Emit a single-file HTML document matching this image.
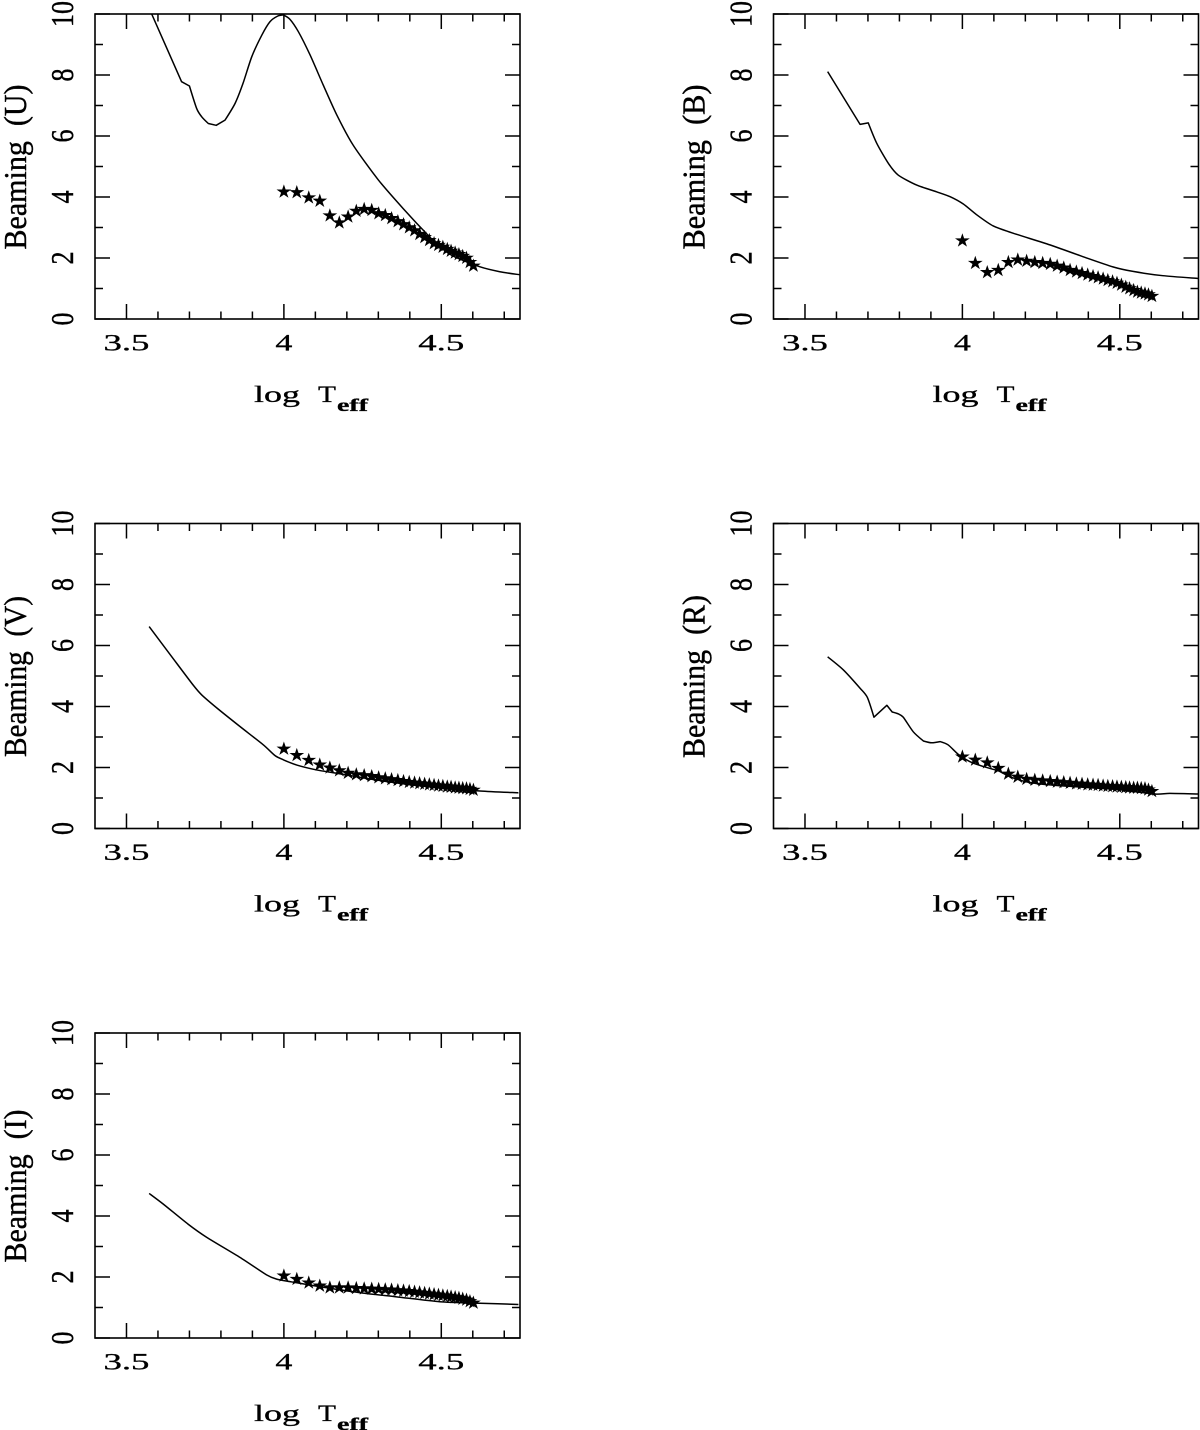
<!DOCTYPE html>
<html lang="en">
<head>
<meta charset="utf-8">
<title>Beaming vs log Teff</title>
<style>
  html, body { margin: 0; padding: 0; background: #fff; }
  svg { display: block; }
  text { font-family: "Liberation Serif", serif; fill: #000; stroke: #000; stroke-width: 0.3; white-space: pre; }
</style>
</head>
<body>
<svg id="figure" xmlns="http://www.w3.org/2000/svg" width="1200" height="1430" viewBox="0 0 1200 1430"></svg>
<script>
// ---- Shared axis values ----
const xMajorTicks = [3.5, 4, 4.5];
const xTickLabels = ["3.5", "4", "4.5"];
const xMinorTicks = [3.6, 3.7, 3.8, 3.9, 4.1, 4.2, 4.3, 4.4, 4.6, 4.7];
const yMajorTicks = [0, 2, 4, 6, 8, 10];
const yTickLabels = ["0", "2", "4", "6", "8", "10"];
const yMinorTicks = [1, 3, 5, 7, 9];

// ---- Star series: x values shared, y per band ----
const starLogT = [4.000, 4.041, 4.079, 4.114, 4.146, 4.176, 4.204, 4.230, 4.255, 4.279, 4.301, 4.322, 4.342, 4.362, 4.380, 4.398, 4.415, 4.431, 4.447, 4.462, 4.477, 4.491, 4.505, 4.519, 4.531, 4.544, 4.556, 4.568, 4.580, 4.591, 4.602];
const starsU = [4.17, 4.15, 3.98, 3.87, 3.39, 3.16, 3.35, 3.54, 3.60, 3.57, 3.46, 3.40, 3.30, 3.20, 3.10, 3.00, 2.90, 2.78, 2.68, 2.58, 2.48, 2.42, 2.36, 2.29, 2.23, 2.17, 2.12, 2.06, 2.00, 1.86, 1.74];
const starsB = [2.57, 1.83, 1.53, 1.60, 1.86, 1.94, 1.90, 1.86, 1.83, 1.80, 1.74, 1.68, 1.60, 1.55, 1.50, 1.45, 1.40, 1.36, 1.32, 1.27, 1.23, 1.18, 1.12, 1.05, 1.00, 0.94, 0.89, 0.86, 0.83, 0.80, 0.75];
const starsV = [2.61, 2.40, 2.24, 2.09, 1.99, 1.90, 1.82, 1.77, 1.74, 1.71, 1.67, 1.64, 1.61, 1.58, 1.55, 1.52, 1.50, 1.48, 1.46, 1.44, 1.42, 1.40, 1.39, 1.37, 1.36, 1.34, 1.33, 1.32, 1.31, 1.29, 1.26];
const starsR = [2.35, 2.25, 2.16, 1.98, 1.79, 1.69, 1.62, 1.59, 1.57, 1.55, 1.53, 1.51, 1.49, 1.47, 1.46, 1.44, 1.43, 1.42, 1.40, 1.39, 1.38, 1.37, 1.36, 1.35, 1.34, 1.33, 1.33, 1.32, 1.31, 1.27, 1.22];
const starsI = [2.04, 1.93, 1.81, 1.71, 1.65, 1.65, 1.65, 1.63, 1.62, 1.61, 1.60, 1.59, 1.58, 1.56, 1.55, 1.53, 1.51, 1.49, 1.47, 1.45, 1.43, 1.41, 1.39, 1.37, 1.35, 1.33, 1.31, 1.28, 1.25, 1.20, 1.15];

// ---- Model curves per band ----
const curveUx = [3.58, 3.675, 3.70, 3.723, 3.739, 3.76, 3.785, 3.813, 3.845, 3.87, 3.898, 3.93, 3.956, 3.98, 3.998, 4.019, 4.046, 4.083, 4.125, 4.168, 4.22, 4.30, 4.379, 4.464, 4.50, 4.54, 4.623, 4.686, 4.75];
const curveUy = [10.0, 7.78, 7.64, 6.90, 6.63, 6.41, 6.35, 6.52, 7.07, 7.72, 8.60, 9.31, 9.75, 9.93, 9.97, 9.83, 9.42, 8.66, 7.67, 6.69, 5.70, 4.56, 3.62, 2.68, 2.33, 2.05, 1.71, 1.55, 1.45];
const curveBx = [3.572, 3.675, 3.701, 3.728, 3.765, 3.796, 3.855, 3.918, 3.961, 4.003, 4.045, 4.098, 4.162, 4.278, 4.384, 4.478, 4.542, 4.637, 4.749];
const curveBy = [8.11, 6.38, 6.43, 5.76, 5.10, 4.72, 4.39, 4.17, 4.01, 3.77, 3.42, 3.05, 2.81, 2.43, 2.04, 1.71, 1.56, 1.42, 1.33];
const curveVx = [3.572, 3.644, 3.712, 3.739, 3.792, 3.861, 3.935, 3.972, 3.999, 4.041, 4.104, 4.168, 4.30, 4.45, 4.623, 4.745];
const curveVy = [6.62, 5.63, 4.70, 4.38, 3.91, 3.34, 2.74, 2.39, 2.25, 2.08, 1.92, 1.81, 1.58, 1.38, 1.23, 1.17];
const curveRx = [3.572, 3.622, 3.675, 3.698, 3.719, 3.76, 3.777, 3.796, 3.812, 3.844, 3.876, 3.902, 3.929, 3.955, 3.987, 4.024, 4.067, 4.114, 4.151, 4.204, 4.278, 4.40, 4.50, 4.612, 4.659, 4.749];
const curveRy = [5.63, 5.20, 4.60, 4.30, 3.65, 4.04, 3.82, 3.76, 3.65, 3.17, 2.87, 2.81, 2.85, 2.74, 2.43, 2.19, 2.03, 1.89, 1.70, 1.53, 1.43, 1.34, 1.27, 1.13, 1.15, 1.13];
const curveIx = [3.572, 3.617, 3.696, 3.755, 3.861, 3.945, 3.977, 4.041, 4.146, 4.252, 4.358, 4.495, 4.623, 4.745];
const curveIy = [4.74, 4.39, 3.73, 3.30, 2.64, 2.07, 1.93, 1.81, 1.63, 1.47, 1.35, 1.19, 1.14, 1.10];

// ---- Layout ----
const NS = "http://www.w3.org/2000/svg";
const svg = document.getElementById("figure");
const PW = 425, PH = 305;
const X_MIN = 3.4, X_MAX = 4.75, Y_MIN = 0, Y_MAX = 10;

const panels = [
  { band: "U", left: 95,    top: 14,     curveX: curveUx, curveY: curveUy, stars: starsU, labelLen: 165 },
  { band: "B", left: 773.5, top: 14,     curveX: curveBx, curveY: curveBy, stars: starsB, labelLen: 165 },
  { band: "V", left: 95,    top: 523.5,  curveX: curveVx, curveY: curveVy, stars: starsV, labelLen: 161 },
  { band: "R", left: 773.5, top: 523.5,  curveX: curveRx, curveY: curveRy, stars: starsR, labelLen: 163 },
  { band: "I", left: 95,    top: 1033,   curveX: curveIx, curveY: curveIy, stars: starsI, labelLen: 153 }
];

function make(tag, attrs, parent) {
  const el = document.createElementNS(NS, tag);
  for (const k in attrs) el.setAttribute(k, attrs[k]);
  parent.appendChild(el);
  return el;
}

function starPoints(cx, cy, r) {
  const pts = [];
  for (let i = 0; i < 10; i++) {
    const rad = i % 2 === 0 ? r : r * 0.382;
    const a = -Math.PI / 2 + i * Math.PI / 5;
    pts.push((cx + rad * Math.cos(a) * 1.05).toFixed(2) + "," + (cy + rad * Math.sin(a)).toFixed(2));
  }
  return pts.join(" ");
}

// Tangent at a point: Catmull-Rom style, but zero at sharp corners so kinks stay crisp
function tangent(xs, ys, i) {
  const n = xs.length;
  if (i === 0 || i === n - 1) {
    const a = Math.max(0, i - 1), b = Math.min(n - 1, i + 1);
    return [(xs[b] - xs[a]) / 8, (ys[b] - ys[a]) / 8];
  }
  const ax = xs[i] - xs[i - 1], ay = ys[i] - ys[i - 1];
  const bx = xs[i + 1] - xs[i], by = ys[i + 1] - ys[i];
  const cos = (ax * bx + ay * by) / (Math.hypot(ax, ay) * Math.hypot(bx, by));
  if (cos < 0.9) return [0, 0];
  return [(xs[i + 1] - xs[i - 1]) / 8, (ys[i + 1] - ys[i - 1]) / 8];
}

function smoothPath(xs, ys) {
  let d = "M" + xs[0].toFixed(2) + " " + ys[0].toFixed(2);
  for (let i = 0; i < xs.length - 1; i++) {
    const t0 = tangent(xs, ys, i), t1 = tangent(xs, ys, i + 1);
    d += " C" + (xs[i] + t0[0]).toFixed(2) + " " + (ys[i] + t0[1]).toFixed(2) + " " + (xs[i + 1] - t1[0]).toFixed(2) + " " + (ys[i + 1] - t1[1]).toFixed(2) + " " + xs[i + 1].toFixed(2) + " " + ys[i + 1].toFixed(2);
  }
  return d;
}

function drawPanel(p) {
  const key = p.band.toLowerCase();
  const xScale = v => p.left + (v - X_MIN) / (X_MAX - X_MIN) * PW;
  const yScale = v => p.top + PH - (v - Y_MIN) / (Y_MAX - Y_MIN) * PH;
  const bottom = p.top + PH, right = p.left + PW;

  const g = make("g", {}, svg);
  
  

  const clip = make("clipPath", { id: "clip-" + key }, g);
  make("rect", { x: p.left, y: p.top, width: PW, height: PH }, clip);

  // ticks
  const ticks = make("g", { stroke: "#000", "stroke-width": 1.5, fill: "none" }, g);
  
  
  const xTick = (v, len) => {
    const x = xScale(v);
    make("line", { x1: x, x2: x, y1: bottom, y2: bottom - len }, ticks);
    make("line", { x1: x, x2: x, y1: p.top, y2: p.top + len }, ticks);
  };
  const yTick = (v, len) => {
    const y = yScale(v);
    make("line", { x1: p.left, x2: p.left + len, y1: y, y2: y }, ticks);
    make("line", { x1: right, x2: right - len, y1: y, y2: y }, ticks);
  };
  xMajorTicks.forEach(v => xTick(v, 15));
  xMinorTicks.forEach(v => xTick(v, 7.5));
  yMajorTicks.forEach(v => yTick(v, 15));
  yMinorTicks.forEach(v => yTick(v, 8));

  // curve
  const d = smoothPath(p.curveX.map(xScale), p.curveY.map(yScale));
  const curve = make("path", { d: d, fill: "none", stroke: "#000", "stroke-width": 1.5, "stroke-linejoin": "round", "clip-path": "url(#clip-" + key + ")" }, g);
  
  

  // stars
  const starGroup = make("g", { fill: "#000", stroke: "none" }, g);
  
  
  p.stars.forEach((v, i) => {
    const s = make("polygon", { points: starPoints(xScale(starLogT[i]), yScale(v), 7.4) }, starGroup);
    
    
  });

  // frame
  const frame = make("rect", { x: p.left, y: p.top, width: PW, height: PH, fill: "none", stroke: "#000", "stroke-width": 1.6 }, g);
  
  

  // x tick labels
  xMajorTicks.forEach((v, i) => {
    const t = make("text", { x: xScale(v), y: bottom + 31.5, "font-size": 23, "text-anchor": "middle", textLength: xTickLabels[i].length > 1 ? 46 : 17, lengthAdjust: "spacingAndGlyphs" }, g);
    t.textContent = xTickLabels[i];
    
    
  });

  // y tick labels (rotated)
  yMajorTicks.forEach((v, i) => {
    const t = make("text", { transform: "translate(" + (p.left - 22) + " " + yScale(v) + ") rotate(-90) scale(1 1.42)", "font-size": 22, "text-anchor": "middle", textLength: yTickLabels[i].length > 1 ? 26 : 13, lengthAdjust: "spacingAndGlyphs" }, g);
    t.textContent = yTickLabels[i];
    
    
  });

  // y-axis title
  const yt = make("text", { transform: "translate(" + (p.left - 69) + " " + (p.top + PH / 2 + 0.5) + ") rotate(-90) scale(1 1.45)", "font-size": 22, "text-anchor": "middle", textLength: p.labelLen, lengthAdjust: "spacingAndGlyphs" }, g);
  yt.textContent = "Beaming  (" + p.band + ")";
  
  

  // x-axis title
  const xtg = make("g", {}, g);
  
  
  const baseY = bottom + 83;
  const t1 = make("text", { x: p.left + 159, y: baseY, "font-size": 23, textLength: 46, lengthAdjust: "spacingAndGlyphs" }, xtg);
  t1.textContent = "log";
  const t2 = make("text", { x: p.left + 223, y: baseY, "font-size": 23, textLength: 18, lengthAdjust: "spacingAndGlyphs" }, xtg);
  t2.textContent = "T";
  const t3 = make("text", { x: p.left + 242, y: baseY + 9, "font-size": 18, "font-weight": "bold", textLength: 31, lengthAdjust: "spacingAndGlyphs" }, xtg);
  t3.textContent = "eff";
}

panels.forEach(drawPanel);
</script>
</body>
</html>
